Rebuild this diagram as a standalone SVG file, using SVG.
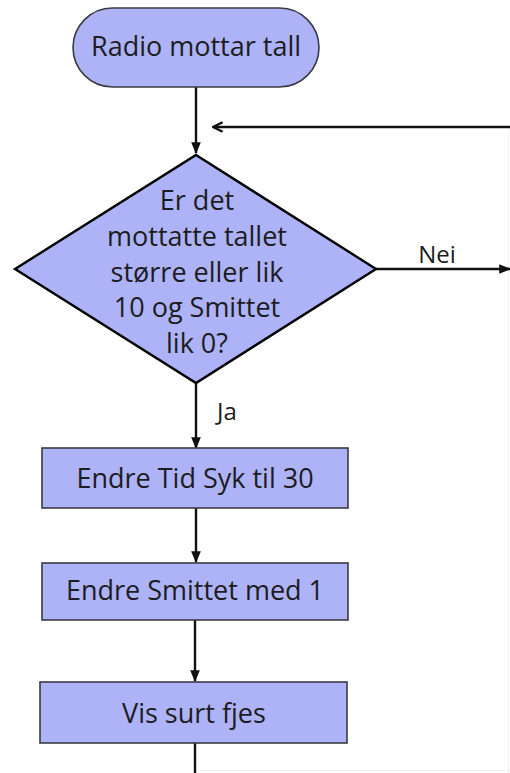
<svg xmlns="http://www.w3.org/2000/svg" width="510" height="773" viewBox="0 0 510 773">
  <style>
    .shape { fill: #adb3f6; stroke: #3a3a44; stroke-width: 1.6; }
    .dia { fill: #adb3f6; stroke: #000; stroke-width: 2.4; }
    .lbl { font-family: "Open Sans", "Noto Sans", sans-serif; font-size: 27px; fill: #1c1c22; text-anchor: middle; }
    .edge { font-family: "Open Sans", "Noto Sans", sans-serif; font-size: 24px; fill: #1c1c22; text-anchor: middle; }
    .wire { fill: none; stroke: #111; stroke-width: 2.4; }
  </style>
  <defs>
    <marker id="solid" viewBox="0 0 10 10" refX="9" refY="5" markerWidth="5" markerHeight="5" orient="auto" markerUnits="strokeWidth">
      <path d="M0,1 L10,5 L0,9 Z" fill="#111"/>
    </marker>
    <marker id="open" viewBox="0 0 10 10" refX="9" refY="5" markerWidth="5" markerHeight="5" orient="auto" markerUnits="strokeWidth">
      <path d="M1,1 L9,5 L1,9" fill="none" stroke="#111" stroke-width="2"/>
    </marker>
  </defs>
  <rect width="510" height="773" fill="#fff"/>

  <!-- faint frame edges -->
  <path d="M508.5,130 V773 M197,770.5 H510" fill="none" stroke="#f2f2f2" stroke-width="1"/>

  <g id="connectors">
    <path class="wire" d="M196,87 V153" marker-end="url(#solid)"/>
    <path class="wire" d="M510,127 H213" marker-end="url(#open)"/>
    <path class="wire" d="M376,269 H510" marker-end="url(#solid)"/>
    <path class="wire" d="M196,383 V448" marker-end="url(#solid)"/>
    <path class="wire" d="M196,508 V562" marker-end="url(#solid)"/>
    <path class="wire" d="M195,620 V681" marker-end="url(#solid)"/>
    <path class="wire" d="M195,743 V773"/>
    <text class="edge" x="437" y="263">Nei</text>
    <text class="edge" x="227" y="420">Ja</text>
  </g>

  <g id="start">
    <rect class="shape" x="73" y="8" width="246" height="79" rx="39.5"/>
    <text class="lbl" x="196" y="56">Radio mottar tall</text>
  </g>

  <g id="decision">
    <polygon class="dia" points="196,155 376,269 196,383 15,269"/>
    <text class="lbl" x="197" y="210">Er det</text>
    <text class="lbl" x="197" y="246">mottatte tallet</text>
    <text class="lbl" x="197" y="282">større eller lik</text>
    <text class="lbl" x="197" y="317">10 og Smittet</text>
    <text class="lbl" x="197" y="353">lik 0?</text>
  </g>

  <g id="set-time">
    <rect class="shape" x="42" y="448" width="306" height="60"/>
    <text class="lbl" x="195" y="488">Endre Tid Syk til 30</text>
  </g>

  <g id="change-infected">
    <rect class="shape" x="42" y="563" width="306" height="57"/>
    <text class="lbl" x="195" y="600">Endre Smittet med 1</text>
  </g>

  <g id="show-face">
    <rect class="shape" x="40" y="682" width="307" height="61"/>
    <text class="lbl" x="194" y="723">Vis surt fjes</text>
  </g>
</svg>
